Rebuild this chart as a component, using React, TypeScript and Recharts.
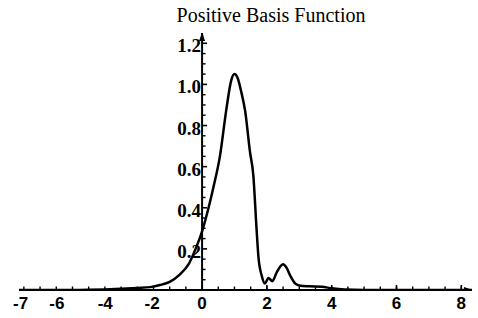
import React from 'react';
import { ComposedChart, Line, XAxis, YAxis, ReferenceLine, Scatter } from 'recharts';

// Curve samples (x, f(x))
const curveX = [-5.65, -4.5, -4, -3.5, -3, -2.5, -2, -1.6, -1.3, -1.0, -0.7, -0.4, -0.2, 0, 0.2, 0.35, 0.55, 0.75, 0.9, 1.0, 1.1, 1.2, 1.33, 1.48, 1.58, 1.68, 1.74, 1.84, 1.94, 2.05, 2.17, 2.3, 2.5, 2.6, 2.72, 2.87, 3.0, 3.3, 3.7, 4.0, 4.4, 5.0, 8.33];
const curveY = [0, 0, 0, 0.001, 0.003, 0.006, 0.01, 0.014, 0.024, 0.04, 0.074, 0.13, 0.2, 0.285, 0.4, 0.5, 0.65, 0.88, 1.02, 1.05, 1.03, 0.97, 0.87, 0.67, 0.56, 0.3, 0.16, 0.07, 0.032, 0.058, 0.043, 0.085, 0.125, 0.11, 0.07, 0.032, 0.022, 0.018, 0.016, 0.008, 0.002, 0, 0];

// X tick labels and where they sit on the axis
const xTickLabels = ['-7', '-6', '-4', '-2', '0', '2', '4', '6', '8'];
const xTickPositions = [-5.6, -4.48, -2.99, -1.54, 0, 2, 4, 6, 8];
const xMinorTicks = [-5.5, -5, -4.5, -4, -3.5, -3, -2.5, -2, -1.5, -1, -0.5, 0.5, 1, 1.5, 2, 2.5, 3, 3.5, 4, 4.5, 5, 5.5, 6, 6.5, 7, 7.5, 8];
const xMajorTicks = [2, 4, 6, 8];

// Y ticks
const yTickLabels = ['0.2', '0.4', '0.6', '0.8', '1.0', '1.2'];
const yTicks = [0.2, 0.4, 0.6, 0.8, 1.0, 1.2];
const yMinorTicks = [0.05, 0.1, 0.15, 0.25, 0.3, 0.35, 0.45, 0.5, 0.55, 0.65, 0.7, 0.75, 0.85, 0.9, 0.95, 1.05, 1.1, 1.15];

const xDomain: [number, number] = [-5.65, 8.33];
const yDomain: [number, number] = [0, 1.25];

const curveData = curveX.map((x, i) => ({ x, y: curveY[i] }));
const xMinorData = xMinorTicks.map((x) => ({ x, y: 0 }));
const xMajorData = xMajorTicks.map((x) => ({ x, y: 0 }));
const yMinorData = yMinorTicks.map((y) => ({ x: 0, y }));
const yMajorData = yTicks.map((y, i) => ({ x: 0, y, label: yTickLabels[i] }));
const topArrow = [{ x: 0, y: yDomain[1] }];
const rightArrow = [{ x: xDomain[1], y: 0 }];

const MinorXTick = (p: any) => <line x1={p.cx} x2={p.cx} y1={p.cy} y2={p.cy - 3.5} stroke="#000" strokeWidth={1.4} />;
const MajorXTick = (p: any) => <line x1={p.cx} x2={p.cx} y1={p.cy} y2={p.cy - 5} stroke="#000" strokeWidth={1.6} />;
const MinorYTick = (p: any) => <line x1={p.cx} x2={p.cx + 3.5} y1={p.cy} y2={p.cy} stroke="#000" strokeWidth={1.4} />;
const MajorYTick = (p: any) => (
  <g>
    <line x1={p.cx} x2={p.cx + 5} y1={p.cy} y2={p.cy} stroke="#000" strokeWidth={1.6} />
    <text x={p.cx - 1} y={p.cy + 9} textAnchor="end" fontFamily="'Liberation Serif', serif" fontWeight="bold" fontSize={19} fill="#000">
      {p.payload?.label}
    </text>
  </g>
);
const UpArrow = (p: any) => <path d={`M${p.cx},${p.cy - 1} L${p.cx - 3},${p.cy + 8} L${p.cx + 3},${p.cy + 8} Z`} fill="#000" />;
const RightArrow = (p: any) => <path d={`M${p.cx + 1},${p.cy} L${p.cx - 8},${p.cy - 3} L${p.cx - 8},${p.cy + 3} Z`} fill="#000" />;

export default function App() {
  return (
    <div style={{ position: 'absolute', left: 0, top: 0, width: 478, height: 318, background: '#fff' }}>
      <div
        style={{
          position: 'absolute',
          left: 171,
          top: 5,
          width: 200,
          textAlign: 'center',
          fontFamily: "'Liberation Serif', serif",
          fontSize: 20,
          lineHeight: '20px',
          color: '#000',
          whiteSpace: 'nowrap',
        }}
      >
        Positive Basis Function
      </div>
      <ComposedChart width={478} height={318} margin={{ top: 33, right: 6, bottom: 4, left: 19 }}>
        <XAxis
          dataKey="x"
          type="number"
          domain={xDomain}
          allowDataOverflow
          ticks={xTickPositions}
          interval={0}
          tickFormatter={(_v: any, i: number) => xTickLabels[i]}
          tickLine={false}
          tickSize={5}
          tickMargin={2}
          height={24}
          axisLine={{ stroke: '#000', strokeWidth: 2 }}
          tick={{ fill: '#000', fontSize: 17, fontWeight: 'bold', fontFamily: "'Liberation Sans', sans-serif" }}
        />
        <YAxis type="number" domain={yDomain} allowDataOverflow hide width={0} />
        <ReferenceLine x={0} stroke="#000" strokeWidth={2} />
        <Scatter data={xMinorData} dataKey="y" shape={MinorXTick} isAnimationActive={false} />
        <Scatter data={xMajorData} dataKey="y" shape={MajorXTick} isAnimationActive={false} />
        <Scatter data={yMinorData} dataKey="y" shape={MinorYTick} isAnimationActive={false} />
        <Scatter data={yMajorData} dataKey="y" shape={MajorYTick} isAnimationActive={false} />
        <Scatter data={topArrow} dataKey="y" shape={UpArrow} isAnimationActive={false} />
        <Scatter data={rightArrow} dataKey="y" shape={RightArrow} isAnimationActive={false} />
        <Line data={curveData} dataKey="y" type="monotone" stroke="#000" strokeWidth={2.5} dot={false} isAnimationActive={false} />
      </ComposedChart>
    </div>
  );
}
